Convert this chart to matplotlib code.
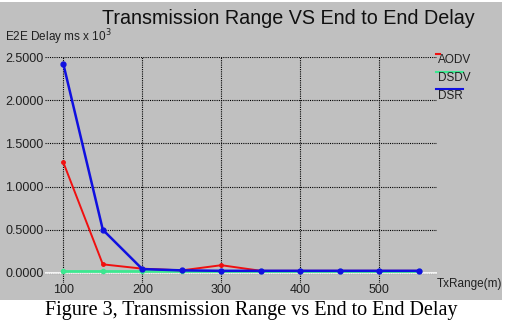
import matplotlib
matplotlib.use("Agg")
import matplotlib.pyplot as plt
from matplotlib.lines import Line2D
from matplotlib.patches import Rectangle

# Transmission range (m)
tx_range = [100, 150, 200, 250, 300, 350, 400, 450, 500, 550]

# End to end delay (ms x 10^3)
aodv = [1.28, 0.10, 0.05, 0.03, 0.09, 0.025, 0.025, 0.025, 0.025, 0.025]
dsdv = [0.018, 0.018, 0.018, 0.018, 0.018, 0.018, 0.018, 0.018, 0.018, 0.018]
dsr = [2.42, 0.50, 0.045, 0.03, 0.025, 0.025, 0.025, 0.025, 0.025, 0.025]

x_ticks = [100, 200, 300, 400, 500]
y_ticks = [0.0, 0.5, 1.0, 1.5, 2.0, 2.5]

GREY = "#c0c0c0"
W, H = 505, 322
SMALL = dict(fontsize=8.5, family="Liberation Sans", color="#202020")

fig = plt.figure(figsize=(W / 100, H / 100), dpi=100, facecolor="white")

# grey panel of the original screenshot
fig.add_artist(Rectangle((0, 1 - 300 / H), 502 / W, 298 / H,
                         transform=fig.transFigure, facecolor=GREY,
                         edgecolor="none", zorder=0))

ax = fig.add_axes([45 / W, 1 - 283 / H, (437 - 45) / W, (283 - 57) / H])
ax.set_facecolor(GREY)
for s in ax.spines.values():
    s.set_visible(False)

ax.set_xlim(76.8, 573)
ax.set_ylim(-0.116, 2.5)
ax.set_xticks(x_ticks)
ax.set_yticks(y_ticks)
ax.set_xticklabels([str(v) for v in x_ticks])
ax.set_yticklabels([f"{v:.4f}" for v in y_ticks])
ax.tick_params(length=0, colors="#202020", pad=1)
for lab in ax.get_xticklabels() + ax.get_yticklabels():
    lab.set_fontsize(9)
    lab.set_family("Liberation Sans")
ax.grid(True, color="black", linestyle=(0, (1, 1)), linewidth=0.8)
ax.set_axisbelow(True)

ax.axhline(0, color="white", linewidth=1.2, zorder=1)

ax.plot(tx_range, dsdv, color="#3ce890", linewidth=2, marker="o",
        markersize=3, zorder=2)
ax.plot(tx_range, aodv, color="#f01010", linewidth=1.4, marker="o",
        markersize=2.5, zorder=3)
ax.plot(tx_range, dsr, color="#1010e0", linewidth=1.8, marker="o",
        markersize=3.5, zorder=4)

# legend, drawn as in the original
legend_items = [("AODV", "#f01010", 54, 60, 440),
                ("DSDV", "#3ce890", 72, 78, 463),
                ("DSR", "#1010e0", 89, 96, 463)]
for name, col, ly, ty, x2 in legend_items:
    fig.add_artist(Line2D([436 / W, x2 / W], [1 - ly / H, 1 - ly / H],
                          transform=fig.transFigure, color=col, linewidth=1.5))
    fig.text(438 / W, 1 - ty / H, name, va="center", ha="left", **SMALL)

fig.text(288 / W, 1 - 19 / H, "Transmission Range VS End to End Delay",
         fontsize=14.2, family="Liberation Sans", color="#101010",
         ha="center", va="center")
fig.text(5 / W, 1 - 37 / H, "E2E Delay ms x 10$^3$", ha="left", va="center",
         **SMALL)
fig.text(437 / W, 1 - 284 / H, "TxRange(m)", ha="left", va="center", **SMALL)

fig.text(251 / W, 1 - 311 / H, "Figure 3, Transmission Range vs End to End Delay",
         fontsize=14.5, family="Liberation Serif", color="black",
         ha="center", va="center")

fig.savefig("out.png", dpi=100, facecolor="white")
